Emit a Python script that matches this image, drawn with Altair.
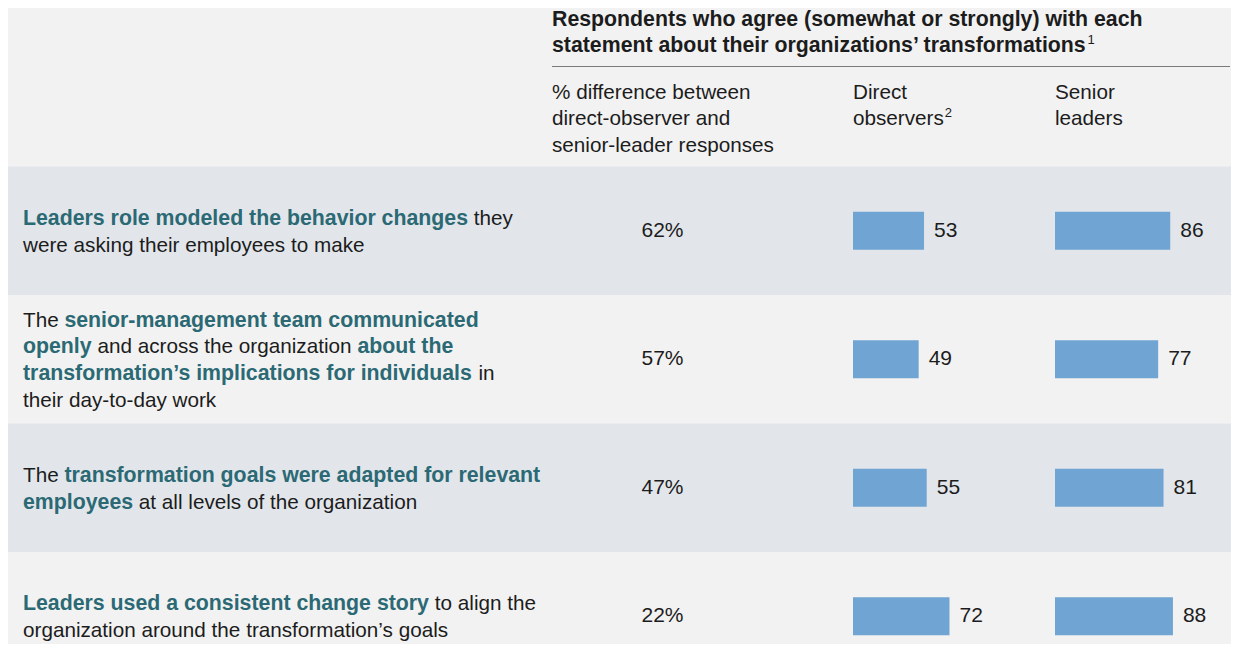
import altair as alt
import pandas as pd

# ---------------- data ----------------
row_ids = [0, 1, 2, 3]
statements = [
    ["**Leaders role modeled the behavior changes** they",
     "were asking their employees to make"],
    ["The **senior-management team communicated**",
     "**openly** and across the organization **about the**",
     "**transformation’s implications for individuals** in",
     "their day-to-day work"],
    ["The **transformation goals were adapted for relevant**",
     "**employees** at all levels of the organization"],
    ["**Leaders used a consistent change story** to align the",
     "organization around the transformation’s goals"],
]
pct_difference = [62, 57, 47, 22]
direct_observers = [53, 49, 55, 72]
senior_leaders = [86, 77, 81, 88]
shaded_rows = [True, False, True, False]

title_lines = ["Respondents who agree (somewhat or strongly) with each",
               "statement about their organizations’ transformations"]
title_note = "1"
column_heads = [["% difference between", "direct-observer and", "senior-leader responses"],
                ["Direct", "observers"],
                ["Senior", "leaders"]]
column_notes = ["", "2", ""]

# ---------------- layout / style ----------------
W, H = 1223, 636
FONT = "Liberation Sans"
BG = "#f2f2f2"
BAND = "#e2e6eb"
BAR = "#6fa4d3"
TEAL = "#2b6974"
INK = "#1c1c1c"
RULE = "#7a7a7a"

ROW_TOP, ROW_H = 158.5, 128.5
LINE_H = 26.7
REG_SIZE, BOLD_SIZE, NUM_SIZE = 20.7, 21.3, 21
TEXT_X = 15
PCT_X = 654.5
HEAD_X = [544, 845, 1047]
TITLE_BASE = [18, 44]
SUB_BASE = [90.5, 117, 143.7]
RULE_Y = 58.5
BAR_HALF = 19 / ROW_H
PX_PER_UNIT = 1.34

ROWS = alt.Scale(domain=[0, 4], range=[ROW_TOP, ROW_TOP + 4 * ROW_H])
DO_SCALE = alt.Scale(domain=[0, 100], range=[HEAD_X[1], HEAD_X[1] + 100 * PX_PER_UNIT])
SL_SCALE = alt.Scale(domain=[0, 100], range=[HEAD_X[2], HEAD_X[2] + 100 * PX_PER_UNIT])

# Helvetica / Arial (= Liberation Sans) advance widths, 1/1000 em
REG = dict(zip(" %’()-", [278, 889, 222, 333, 333, 333]))
REG.update(zip("ABCDEFGHIJKLMNOPQRSTUVWXYZ",
               [667, 667, 722, 722, 667, 611, 778, 722, 278, 500, 667, 556, 833,
                722, 778, 667, 778, 722, 667, 611, 722, 667, 944, 667, 667, 611]))
REG.update(zip("abcdefghijklmnopqrstuvwxyz",
               [556, 556, 500, 556, 556, 278, 556, 556, 222, 222, 500, 222, 833,
                556, 556, 556, 556, 333, 500, 278, 556, 500, 722, 500, 500, 500]))
BOLD = dict(zip(" %’()-", [278, 889, 278, 333, 333, 333]))
BOLD.update(zip("ABCDEFGHIJKLMNOPQRSTUVWXYZ",
                [722, 722, 722, 722, 667, 611, 778, 722, 278, 556, 722, 611, 833,
                 722, 778, 667, 778, 722, 667, 611, 722, 667, 944, 667, 667, 611]))
BOLD.update(zip("abcdefghijklmnopqrstuvwxyz",
                [556, 611, 556, 611, 556, 333, 611, 611, 278, 278, 556, 278, 889,
                 611, 611, 611, 611, 389, 556, 333, 611, 556, 778, 556, 556, 500]))


def text_width(s, bold):
    table = BOLD if bold else REG
    size = BOLD_SIZE if bold else REG_SIZE
    return sum(table.get(ch, 556) for ch in s) * size / 1000.0


# statement segments (mixed bold / regular runs)
seg_records = []
for r, lines in zip(row_ids, statements):
    n = len(lines)
    for j, line in enumerate(lines):
        yv = r + 0.5 + (j - (n - 1) / 2) * LINE_H / ROW_H
        cursor = 0.0
        for k, piece in enumerate(line.split("**")):
            if not piece:
                continue
            bold = (k % 2 == 1)
            lead = len(piece) - len(piece.lstrip(" "))
            cursor += text_width(" " * lead, bold)
            core = piece.strip(" ")
            seg_records.append({"row": r, "yv": yv, "px": TEXT_X + cursor,
                                "text": core, "bold": bold})
            cursor += text_width(core, bold)
            trail = len(piece) - len(piece.rstrip(" "))
            cursor += text_width(" " * trail, bold)
segs = pd.DataFrame(seg_records)

# header texts
head_records = []
for i, t in enumerate(title_lines):
    head_records.append({"text": t, "px": HEAD_X[0], "py": TITLE_BASE[i], "kind": "title"})
head_records.append({"text": title_note,
                     "px": HEAD_X[0] + text_width(title_lines[-1], True) + 0.5,
                     "py": TITLE_BASE[-1] - 8, "kind": "note"})
for c, lines in enumerate(column_heads):
    for i, t in enumerate(lines):
        head_records.append({"text": t, "px": HEAD_X[c], "py": SUB_BASE[i], "kind": "sub"})
    if column_notes[c]:
        head_records.append({"text": column_notes[c],
                             "px": HEAD_X[c] + text_width(lines[-1], False) + 1,
                             "py": SUB_BASE[len(lines) - 1] - 8, "kind": "note"})
heads = pd.DataFrame(head_records)

table = pd.DataFrame({"row": row_ids, "pct": pct_difference, "do": direct_observers,
                      "sl": senior_leaders, "shaded": shaded_rows})
base = alt.Chart(table).transform_calculate(
    top="datum.row", bottom="datum.row + 1", mid="datum.row + 0.5",
    b0=f"datum.row + 0.5 - {BAR_HALF}", b1=f"datum.row + 0.5 + {BAR_HALF}",
    zero="0", pct_label="datum.pct + '%'")

bands = base.transform_filter("datum.shaded").mark_rect(color=BAND).encode(
    x=alt.value(0), x2=alt.value(W),
    y=alt.Y("top:Q", scale=ROWS, axis=None), y2="bottom:Q")

bars_do = base.mark_rect(color=BAR).encode(
    x=alt.X("zero:Q", scale=DO_SCALE, axis=None), x2="do:Q",
    y=alt.Y("b0:Q", scale=ROWS, axis=None), y2="b1:Q")
bars_sl = base.mark_rect(color=BAR).encode(
    x=alt.X("zero:Q", scale=SL_SCALE, axis=None), x2="sl:Q",
    y=alt.Y("b0:Q", scale=ROWS, axis=None), y2="b1:Q")

num_style = dict(font=FONT, fontSize=NUM_SIZE, color=INK, baseline="middle")
lab_do = base.mark_text(align="left", dx=10, **num_style).encode(
    x=alt.X("do:Q", scale=DO_SCALE, axis=None),
    y=alt.Y("mid:Q", scale=ROWS, axis=None), text="do:Q")
lab_sl = base.mark_text(align="left", dx=10, **num_style).encode(
    x=alt.X("sl:Q", scale=SL_SCALE, axis=None),
    y=alt.Y("mid:Q", scale=ROWS, axis=None), text="sl:Q")
lab_pct = base.mark_text(align="center", **num_style).encode(
    x=alt.value(PCT_X),
    y=alt.Y("mid:Q", scale=ROWS, axis=None), text="pct_label:N")

seg_base = alt.Chart(segs)
seg_bold = seg_base.transform_filter("datum.bold").mark_text(
    align="left", baseline="alphabetic", dy=7.5, font=FONT, fontSize=BOLD_SIZE,
    fontWeight="bold", color=TEAL).encode(
    x=alt.X("px:Q", scale=None), y=alt.Y("yv:Q", scale=ROWS, axis=None), text="text:N")
seg_reg = seg_base.transform_filter("!datum.bold").mark_text(
    align="left", baseline="alphabetic", dy=7.5, font=FONT, fontSize=REG_SIZE,
    color=INK).encode(
    x=alt.X("px:Q", scale=None), y=alt.Y("yv:Q", scale=ROWS, axis=None), text="text:N")

head_base = alt.Chart(heads)
head_title = head_base.transform_filter("datum.kind == 'title'").mark_text(
    align="left", baseline="alphabetic", font=FONT, fontSize=BOLD_SIZE,
    fontWeight="bold", color=INK).encode(
    x=alt.X("px:Q", scale=None), y=alt.Y("py:Q", scale=None), text="text:N")
head_sub = head_base.transform_filter("datum.kind == 'sub'").mark_text(
    align="left", baseline="alphabetic", font=FONT, fontSize=REG_SIZE,
    color=INK).encode(
    x=alt.X("px:Q", scale=None), y=alt.Y("py:Q", scale=None), text="text:N")
head_note = head_base.transform_filter("datum.kind == 'note'").mark_text(
    align="left", baseline="alphabetic", font=FONT, fontSize=13,
    color=INK).encode(
    x=alt.X("px:Q", scale=None), y=alt.Y("py:Q", scale=None), text="text:N")

rule = alt.Chart(pd.DataFrame({"k": [0]})).mark_rule(color=RULE, strokeWidth=1.2).encode(
    x=alt.value(HEAD_X[0]), x2=alt.value(W - 1), y=alt.value(RULE_Y))

chart = alt.layer(
    bands, bars_do, bars_sl, lab_do, lab_sl, lab_pct,
    seg_bold, seg_reg, head_title, head_sub, head_note, rule
).resolve_scale(x="independent", y="independent").properties(
    width=W, height=H, background=BG, padding=0, autosize="none"
).configure_view(stroke=None)

chart.save("out.html", embed_options={"renderer": "svg", "actions": False})
